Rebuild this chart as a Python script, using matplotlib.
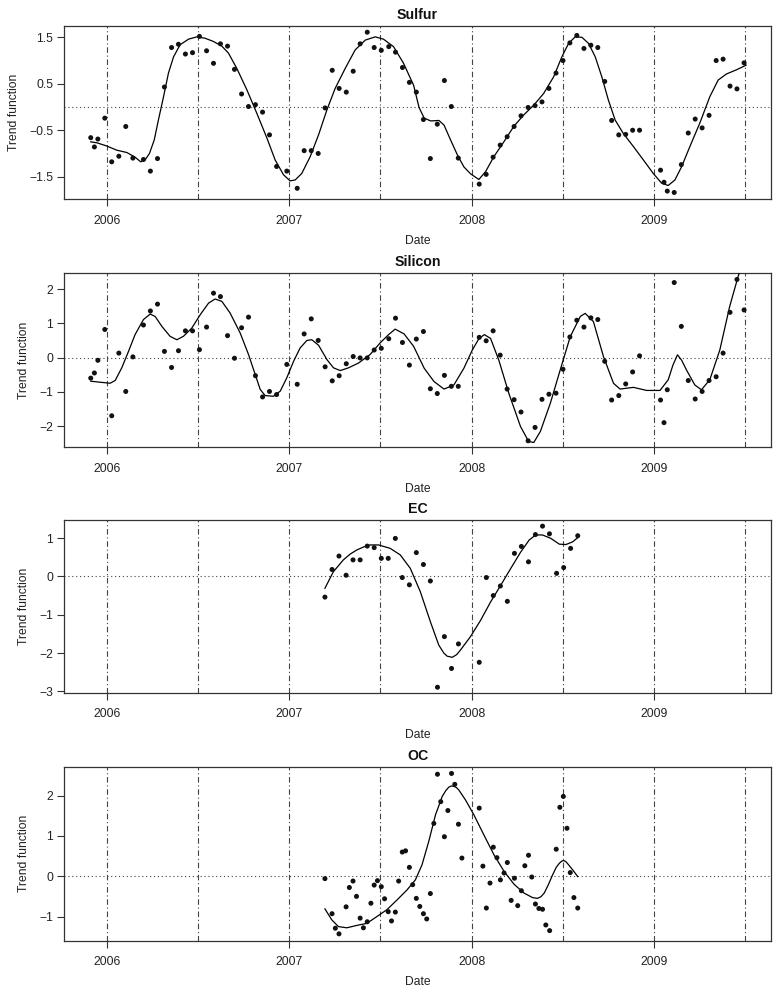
import matplotlib
matplotlib.use("Agg")
import matplotlib.pyplot as plt

plt.rcParams['font.family'] = ['Liberation Sans', 'DejaVu Sans']

# ---------------- data (decimal years) ----------------
sulfur_t = [2005.912, 2005.932, 2005.951, 2005.989, 2006.027, 2006.066, 2006.104, 2006.143,
            2006.201, 2006.239, 2006.278, 2006.316, 2006.355, 2006.393, 2006.431, 2006.470,
            2006.508, 2006.547, 2006.585, 2006.623, 2006.662, 2006.700, 2006.739, 2006.777,
            2006.815, 2006.854, 2006.892, 2006.931, 2006.987, 2007.044, 2007.082, 2007.121,
            2007.159, 2007.197, 2007.236, 2007.274, 2007.313, 2007.351, 2007.389, 2007.428,
            2007.466, 2007.505, 2007.546, 2007.583, 2007.621, 2007.659, 2007.697, 2007.736,
            2007.774, 2007.812, 2007.851, 2007.889, 2007.927, 2008.042, 2008.080, 2008.118,
            2008.157, 2008.195, 2008.233, 2008.271, 2008.310, 2008.348, 2008.386, 2008.424,
            2008.463, 2008.501, 2008.539, 2008.577, 2008.616, 2008.654, 2008.692, 2008.730,
            2008.768, 2008.807, 2008.845, 2008.883, 2008.921, 2009.036, 2009.055, 2009.073,
            2009.111, 2009.150, 2009.188, 2009.226, 2009.264, 2009.302, 2009.341, 2009.379,
            2009.417, 2009.455, 2009.494]
sulfur_v = [-0.66, -0.86, -0.69, -0.24, -1.18, -1.06, -0.42, -1.10,
            -1.13, -1.38, -1.11, 0.43, 1.28, 1.35, 1.14, 1.17,
            1.52, 1.21, 0.94, 1.36, 1.31, 0.81, 0.28, 0.01,
            0.05, -0.11, -0.60, -1.28, -1.38, -1.75, -0.94, -0.94,
            -1.00, -0.02, 0.79, 0.40, 0.32, 0.77, 1.36, 1.61,
            1.28, 1.22, 1.30, 1.18, 0.85, 0.53, 0.32, -0.27,
            -1.11, -0.37, 0.57, 0.01, -1.10, -1.66, -1.45, -1.08,
            -0.82, -0.64, -0.42, -0.19, -0.01, 0.03, 0.11, 0.40,
            0.73, 1.00, 1.38, 1.54, 1.26, 1.33, 1.28, 0.55,
            -0.29, -0.60, -0.59, -0.50, -0.50, -1.36, -1.62, -1.81,
            -1.84, -1.24, -0.56, -0.26, -0.45, -0.18, 1.00, 1.03,
            0.45, 0.39, 0.95]
sulfur_fit_t = [2005.912, 2005.945, 2006.000, 2006.055, 2006.110, 2006.155, 2006.186, 2006.210,
                2006.234, 2006.260, 2006.283, 2006.311, 2006.338, 2006.366, 2006.402, 2006.448,
                2006.494, 2006.539, 2006.585, 2006.631, 2006.667, 2006.713, 2006.768, 2006.823,
                2006.878, 2006.923, 2006.969, 2007.005, 2007.033, 2007.069, 2007.115, 2007.161,
                2007.207, 2007.252, 2007.307, 2007.362, 2007.417, 2007.472, 2007.517, 2007.572,
                2007.627, 2007.682, 2007.712, 2007.740, 2007.776, 2007.821, 2007.849, 2007.885,
                2007.922, 2007.958, 2007.995, 2008.040, 2008.077, 2008.122, 2008.177, 2008.231,
                2008.286, 2008.341, 2008.395, 2008.450, 2008.495, 2008.532, 2008.568, 2008.605,
                2008.641, 2008.678, 2008.714, 2008.750, 2008.787, 2008.832, 2008.887, 2008.942,
                2008.996, 2009.042, 2009.078, 2009.115, 2009.151, 2009.197, 2009.251, 2009.306,
                2009.352, 2009.397, 2009.452, 2009.505]
sulfur_fit_v = [-0.75, -0.77, -0.84, -0.93, -0.98, -1.08, -1.18, -1.14,
                -1.00, -0.71, -0.28, 0.22, 0.73, 1.08, 1.34, 1.46,
                1.51, 1.48, 1.41, 1.31, 1.16, 0.83, 0.37, -0.14,
                -0.67, -1.14, -1.46, -1.59, -1.57, -1.43, -1.07, -0.60,
                -0.06, 0.40, 0.83, 1.23, 1.44, 1.51, 1.46, 1.30,
                0.94, 0.47, -0.01, -0.24, -0.30, -0.29, -0.39, -0.71,
                -1.03, -1.29, -1.44, -1.56, -1.39, -1.07, -0.75, -0.42,
                -0.17, 0.04, 0.29, 0.65, 1.08, 1.37, 1.51, 1.50,
                1.37, 1.08, 0.65, 0.15, -0.28, -0.57, -0.85, -1.14,
                -1.43, -1.64, -1.69, -1.57, -1.29, -0.85, -0.35, 0.22,
                0.58, 0.71, 0.80, 0.90]

silicon_t = sulfur_t
silicon_v = [-0.60, -0.45, -0.08, 0.82, -1.70, 0.13, -0.99, 0.02,
             0.95, 1.36, 1.56, 0.18, -0.29, 0.20, 0.78, 0.78,
             0.23, 0.89, 1.88, 1.78, 0.64, -0.02, 0.87, 1.18,
             -0.53, -1.15, -0.99, -1.08, -0.20, -0.78, 0.69, 1.13,
             0.50, -0.27, -0.68, -0.53, -0.18, 0.03, -0.01, -0.01,
             0.22, 0.27, 0.55, 1.15, 0.44, -0.22, 0.54, 0.76,
             -0.91, -1.05, -0.52, -0.84, -0.84, 0.59, 0.49, 0.78,
             0.07, -0.92, -1.23, -1.59, -2.43, -2.04, -1.22, -1.07,
             -1.04, -0.34, 0.60, 1.09, 0.89, 1.16, 1.11, -0.11,
             -1.24, -1.11, -0.77, -0.42, 0.05, -1.24, -1.90, -0.94,
             2.19, 0.91, -0.67, -1.21, -0.99, -0.67, -0.56, 0.13,
             1.32, 2.28, 1.39]
silicon_fit_t = [2005.912, 2005.963, 2006.018, 2006.046, 2006.082, 2006.119, 2006.155, 2006.201,
                 2006.238, 2006.265, 2006.302, 2006.347, 2006.384, 2006.420, 2006.466, 2006.512,
                 2006.558, 2006.594, 2006.631, 2006.676, 2006.731, 2006.777, 2006.814, 2006.841,
                 2006.868, 2006.914, 2006.951, 2006.987, 2007.024, 2007.060, 2007.097, 2007.124,
                 2007.161, 2007.207, 2007.243, 2007.280, 2007.325, 2007.380, 2007.444, 2007.499,
                 2007.545, 2007.581, 2007.630, 2007.682, 2007.712, 2007.740, 2007.794, 2007.849,
                 2007.903, 2007.958, 2008.004, 2008.040, 2008.070, 2008.104, 2008.149, 2008.204,
                 2008.268, 2008.313, 2008.341, 2008.377, 2008.432, 2008.486, 2008.541, 2008.596,
                 2008.623, 2008.668, 2008.723, 2008.778, 2008.814, 2008.887, 2008.960, 2009.033,
                 2009.078, 2009.104, 2009.129, 2009.152, 2009.178, 2009.224, 2009.260, 2009.306,
                 2009.361, 2009.415, 2009.461, 2009.494]
silicon_fit_v = [-0.69, -0.72, -0.75, -0.67, -0.30, 0.18, 0.67, 1.11,
                 1.27, 1.20, 0.91, 0.62, 0.52, 0.62, 0.86, 1.25,
                 1.59, 1.71, 1.64, 1.30, 0.72, 0.09, -0.50, -0.93,
                 -1.11, -1.13, -0.98, -0.59, -0.11, 0.28, 0.50, 0.52,
                 0.36, -0.06, -0.30, -0.38, -0.30, -0.16, 0.09, 0.43,
                 0.67, 0.83, 0.69, 0.33, 0.00, -0.31, -0.70, -0.92,
                 -0.80, -0.31, 0.22, 0.55, 0.67, 0.56, -0.07, -1.04,
                 -2.01, -2.45, -2.48, -2.16, -1.33, -0.36, 0.61, 1.20,
                 1.29, 1.05, 0.03, -0.75, -0.92, -0.87, -0.96, -0.96,
                 -0.65, -0.22, 0.08, -0.08, -0.36, -0.80, -0.94, -0.65,
                 0.22, 1.49, 2.36, 2.90]

ec_t = [2007.196, 2007.235, 2007.273, 2007.312, 2007.350, 2007.389, 2007.428, 2007.466,
        2007.505, 2007.543, 2007.582, 2007.620, 2007.659, 2007.697, 2007.736, 2007.774,
        2007.813, 2007.851, 2007.890, 2007.928, 2008.042, 2008.081, 2008.119, 2008.158,
        2008.196, 2008.235, 2008.273, 2008.312, 2008.350, 2008.389, 2008.427, 2008.466,
        2008.505, 2008.543, 2008.582]
ec_v = [-0.54, 0.18, 0.53, 0.03, 0.43, 0.43, 0.79, 0.75,
        0.47, 0.47, 0.99, -0.03, -0.22, 0.62, 0.31, -0.12,
        -2.89, -1.57, -2.40, -1.76, -2.24, -0.03, -0.50, -0.25,
        -0.65, 0.60, 0.78, 0.38, 1.09, 1.31, 1.11, 0.08,
        0.23, 0.73, 1.06]
ec_fit_t = [2007.196, 2007.242, 2007.297, 2007.334, 2007.371, 2007.410, 2007.444, 2007.490,
            2007.554, 2007.609, 2007.664, 2007.719, 2007.774, 2007.820, 2007.848, 2007.866,
            2007.894, 2007.918, 2007.939, 2007.994, 2008.050, 2008.105, 2008.160, 2008.215,
            2008.270, 2008.316, 2008.352, 2008.389, 2008.435, 2008.481, 2008.517, 2008.554,
            2008.582]
ec_fit_v = [-0.31, 0.12, 0.43, 0.58, 0.69, 0.77, 0.82, 0.82,
            0.73, 0.56, 0.21, -0.40, -1.18, -1.79, -2.00, -2.08,
            -2.11, -2.04, -1.92, -1.57, -1.14, -0.66, -0.23, 0.21,
            0.64, 0.95, 1.08, 1.08, 0.99, 0.84, 0.83, 0.90,
            1.01]

oc_t = [2007.196, 2007.235, 2007.253, 2007.273, 2007.312, 2007.330, 2007.350, 2007.369,
        2007.389, 2007.407, 2007.428, 2007.448, 2007.466, 2007.484, 2007.505, 2007.523,
        2007.543, 2007.561, 2007.582, 2007.600, 2007.620, 2007.638, 2007.659, 2007.677,
        2007.697, 2007.716, 2007.736, 2007.754, 2007.774, 2007.793, 2007.813, 2007.831,
        2007.851, 2007.870, 2007.890, 2007.908, 2007.928, 2007.947, 2008.042, 2008.062,
        2008.081, 2008.101, 2008.119, 2008.139, 2008.158, 2008.178, 2008.196, 2008.217,
        2008.235, 2008.253, 2008.273, 2008.292, 2008.312, 2008.330, 2008.350, 2008.369,
        2008.389, 2008.407, 2008.428, 2008.464, 2008.484, 2008.503, 2008.523, 2008.541,
        2008.561, 2008.582]
oc_v = [-0.06, -0.93, -1.29, -1.43, -0.76, -0.28, -0.12, -0.50,
        -1.04, -1.28, -1.13, -0.67, -0.22, -0.11, -0.26, -0.56,
        -0.88, -1.11, -0.89, -0.12, 0.60, 0.63, 0.22, -0.21,
        -0.55, -0.75, -0.93, -1.06, -0.43, 1.31, 2.53, 1.85,
        0.98, 1.63, 2.55, 2.28, 1.29, 0.45, 1.69, 0.25,
        -0.79, -0.17, 0.72, 0.46, -0.09, 0.08, 0.34, -0.60,
        -0.05, -0.73, -0.36, 0.26, 0.52, -0.02, -0.69, -0.80,
        -0.82, -1.21, -1.35, 0.67, 1.71, 1.98, 1.19, 0.09,
        -0.53, -0.79]
oc_fit_t = [2007.196, 2007.233, 2007.270, 2007.316, 2007.371, 2007.426, 2007.481, 2007.536,
            2007.591, 2007.646, 2007.692, 2007.728, 2007.765, 2007.802, 2007.839, 2007.858,
            2007.875, 2007.890, 2007.903, 2007.917, 2007.930, 2007.967, 2008.013, 2008.068,
            2008.123, 2008.178, 2008.233, 2008.288, 2008.334, 2008.361, 2008.380, 2008.398,
            2008.420, 2008.444, 2008.464, 2008.481, 2008.493, 2008.503, 2008.515, 2008.527,
            2008.554, 2008.582]
oc_fit_v = [-0.81, -1.08, -1.25, -1.28, -1.22, -1.17, -1.00, -0.83,
            -0.59, -0.34, -0.09, 0.28, 0.86, 1.52, 1.98, 2.12,
            2.21, 2.24, 2.23, 2.20, 2.14, 1.89, 1.52, 1.02,
            0.53, 0.12, -0.20, -0.42, -0.53, -0.55, -0.51, -0.42,
            -0.22, 0.03, 0.22, 0.32, 0.37, 0.39, 0.37, 0.31,
            0.16, -0.01]

titles = ["Sulfur", "Silicon", "EC", "OC"]
year_ticks = [2006, 2007, 2008, 2009]
year_labels = ["2006", "2007", "2008", "2009"]
vlines = [2006, 2006.5, 2007, 2007.5, 2008, 2008.5, 2009, 2009.5]
ytick_sets = [[-1.5, -0.5, 0.5, 1.5], [-2, -1, 0, 1, 2], [-3, -2, -1, 0, 1], [-1, 0, 1, 2]]
ylims = [(-1.987, 1.75), (-2.62, 2.46), (-3.04, 1.47), (-1.60, 2.71)]

panels = [(sulfur_t, sulfur_v, sulfur_fit_t, sulfur_fit_v),
          (silicon_t, silicon_v, silicon_fit_t, silicon_fit_v),
          (ec_t, ec_v, ec_fit_t, ec_fit_v),
          (oc_t, oc_v, oc_fit_t, oc_fit_v)]

# ---------------- layout ----------------
W, H = 780, 992
fig = plt.figure(figsize=(W / 100, H / 100), dpi=100)
boxes = [(25.7, 199.3), (273.3, 447.3), (520.0, 693.0), (767.0, 940.7)]
ylabel_x = [14.5, 24.0, 24.5, 24.0]   # desired label centre, in pixels
left, right = 64.3, 770.7
frame_col = '#333333'

for i, (top, bot) in enumerate(boxes):
    ax = fig.add_axes([left / W, 1 - bot / H, (right - left) / W, (bot - top) / H])
    t, v, ft, fv = panels[i]
    for xv in vlines:
        ax.axvline(xv, color='#444444', lw=0.8, linestyle=(0, (5, 2.5, 1, 2.5)), zorder=1)
    ax.axhline(0, color='#444444', lw=0.8, linestyle=(0, (1, 2.5)), zorder=1)
    ax.plot(ft, fv, color='black', lw=0.9, zorder=3)
    ax.scatter(t, v, s=13, color='#111111', edgecolors='none', zorder=4)
    ax.set_xlim(2005.767, 2009.64)
    ax.set_ylim(*ylims[i])
    ax.set_xticks(year_ticks)
    ax.set_xticklabels(year_labels)
    ax.set_yticks(ytick_sets[i])
    ax.set_yticklabels([("%g" % y).replace('-', '\u2212') for y in ytick_sets[i]])
    ax.tick_params(direction='out', length=5, width=0.8, color=frame_col,
                   labelsize=8.7, labelcolor='#222222')
    ax.tick_params(axis='x', pad=6)
    ax.tick_params(axis='y', pad=3)
    for s in ax.spines.values():
        s.set_color(frame_col)
        s.set_linewidth(0.9)
    ax.set_title(titles[i], fontsize=10.2, fontweight='bold', pad=5, color='#111111')
    ax.set_xlabel("Date", fontsize=8.7, labelpad=6, color='#222222')
    ylab = ax.set_ylabel("Trend function", fontsize=8.7, color='#222222')
    ylab.set_rotation_mode('anchor')
    ylab.set_verticalalignment('center')
    ylab.set_horizontalalignment('center')
    ax.yaxis.set_label_coords((ylabel_x[i] - left) / (right - left), 0.5)

fig.savefig("out.png", dpi=100)
